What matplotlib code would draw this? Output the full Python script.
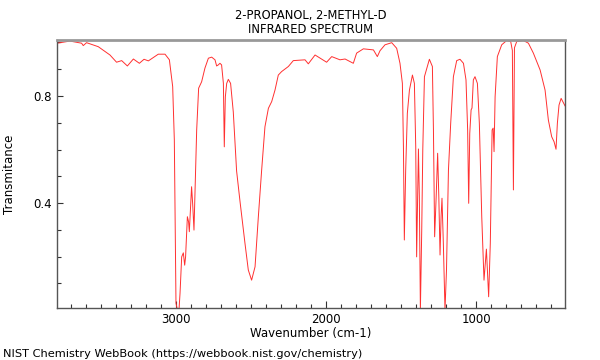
import numpy as np
import matplotlib
matplotlib.use('Agg')
import matplotlib.pyplot as plt
from matplotlib.ticker import MultipleLocator

# spectrum (wavenumber cm-1, transmittance)
wavenumber = [3791, 3707, 3629, 3618, 3596, 3518, 3440, 3396, 3362, 3324,
              3284, 3244, 3213, 3184, 3118, 3073, 3044, 3022, 3011, 3000,
              2990, 2980, 2973, 2962, 2951, 2942, 2936, 2924, 2916, 2911,
              2902, 2896, 2889, 2880, 2871, 2862, 2849, 2829, 2807, 2784,
              2762, 2740, 2729, 2718, 2707, 2696, 2684, 2678, 2671, 2662,
              2651, 2636, 2618, 2596, 2573, 2540, 2518, 2496, 2473, 2451,
              2429, 2407, 2384, 2362, 2340, 2318, 2296, 2251, 2218, 2140,
              2118, 2073, 1996, 1962, 1907, 1873, 1818, 1796, 1751, 1684,
              1658, 1640, 1607, 1562, 1529, 1507, 1491, 1484, 1478, 1469,
              1458, 1444, 1424, 1411, 1402, 1396, 1389, 1384, 1378, 1371,
              1362, 1355, 1344, 1311, 1291, 1284, 1276, 1266, 1256, 1248,
              1240, 1233, 1227, 1218, 1207, 1197, 1184, 1169, 1151, 1129,
              1107, 1084, 1067, 1056, 1049, 1042, 1033, 1027, 1018, 1007,
              991, 978, 962, 947, 931, 916, 905, 893, 886, 880,
              873, 858, 829, 796, 769, 758, 751, 744, 729, 684,
              651, 618, 573, 540, 518, 496, 480, 467, 458, 447,
              433, 422, 407]
transmittance = [0.997, 1.005, 0.997, 0.988, 0.999, 0.984, 0.953, 0.926, 0.932, 0.912,
                 0.938, 0.922, 0.937, 0.931, 0.956, 0.956, 0.935, 0.835, 0.636, 0.026,
                 0.0, 0.0, 0.063, 0.199, 0.214, 0.168, 0.199, 0.349, 0.33, 0.293,
                 0.399, 0.461, 0.399, 0.299, 0.486, 0.673, 0.829, 0.853, 0.904, 0.941,
                 0.945, 0.935, 0.912, 0.916, 0.922, 0.916, 0.847, 0.61, 0.797, 0.847,
                 0.862, 0.847, 0.74, 0.52, 0.405, 0.249, 0.15, 0.112, 0.162, 0.349,
                 0.523, 0.685, 0.754, 0.779, 0.822, 0.878, 0.891, 0.91, 0.932, 0.935,
                 0.92, 0.953, 0.926, 0.947, 0.935, 0.938, 0.922, 0.96, 0.976, 0.972,
                 0.947, 0.969, 0.991, 0.999, 0.978, 0.922, 0.847, 0.61, 0.262, 0.523,
                 0.735, 0.822, 0.878, 0.847, 0.61, 0.199, 0.424, 0.602, 0.424, 0.0,
                 0.3, 0.6, 0.872, 0.937, 0.91, 0.673, 0.274, 0.42, 0.586, 0.42,
                 0.206, 0.35, 0.418, 0.25, 0.0, 0.15, 0.523, 0.698, 0.872, 0.932,
                 0.937, 0.922, 0.86, 0.673, 0.399, 0.66, 0.748, 0.755, 0.86, 0.872,
                 0.847, 0.698, 0.349, 0.112, 0.228, 0.05, 0.25, 0.673, 0.68, 0.592,
                 0.797, 0.947, 0.991, 1.007, 1.003, 0.97, 0.449, 0.98, 1.003, 1.007,
                 0.997, 0.96, 0.897, 0.822, 0.71, 0.648, 0.629, 0.601, 0.698, 0.766,
                 0.791, 0.779, 0.763]

fig = plt.figure(figsize=(6, 3.6), dpi=100)
ax = fig.add_axes([0.095, 0.1444, 0.8467, 0.7445])

ax.plot(wavenumber, transmittance, color='#ff3030', lw=0.7)
ax.set_xlim(3793, 407)
ax.set_ylim(0.008, 1.009)

ax.xaxis.set_major_locator(MultipleLocator(1000))
ax.xaxis.set_minor_locator(MultipleLocator(100))
ax.yaxis.set_major_locator(MultipleLocator(0.4))
ax.yaxis.set_minor_locator(MultipleLocator(0.1))
ax.tick_params(which='both', direction='in', labelsize=8.5, width=0.8, color='#333333')
ax.tick_params(axis='x', which='major', length=5)
ax.tick_params(axis='x', which='minor', length=3)
ax.tick_params(axis='y', which='major', length=4)
ax.tick_params(axis='y', which='minor', length=3)

for s in ['left', 'bottom']:
    ax.spines[s].set_color('#555555')
    ax.spines[s].set_linewidth(1)
ax.spines['right'].set_color('#555555')
ax.spines['right'].set_linewidth(1)
ax.spines['top'].set_color('#999999')
ax.spines['top'].set_linewidth(2)

ax.set_xlabel('Wavenumber (cm-1)', fontsize=8.5, labelpad=1)
ax.set_ylabel('Transmitance', fontsize=8.5)
ax.yaxis.set_label_coords(-0.08, 0.5)
fig.text(0.518, 0.958, '2-PROPANOL, 2-METHYL-D', ha='center', va='center', fontsize=8.3)
fig.text(0.518, 0.917, 'INFRARED SPECTRUM', ha='center', va='center', fontsize=8.3)
fig.text(0.005, 0.004, 'NIST Chemistry WebBook (https://webbook.nist.gov/chemistry)',
         ha='left', va='bottom', fontsize=8.2)

fig.savefig('out.png', dpi=100)
